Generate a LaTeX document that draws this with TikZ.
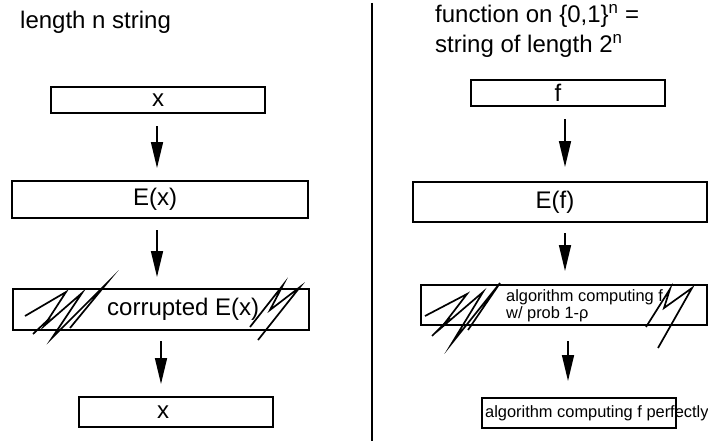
\documentclass[tikz,border=0pt]{standalone}
\usepackage{fontspec}
\setmainfont{Liberation Sans}
\usetikzlibrary{arrows.meta}
\begin{document}
\begin{tikzpicture}[x=1pt,y=-1pt,
  box/.style={draw, line width=2pt, inner sep=0pt},
  big/.style={font=\fontsize{24}{28}\selectfont, inner sep=0pt},
  small/.style={font=\fontsize{16.4}{19}\selectfont, inner sep=0pt},
  arr/.style={line width=1.6pt, -{Triangle[length=26pt,width=12pt]}},
  scrib/.style={line width=1.7pt, line join=miter, miter limit=25}]
\useasboundingbox (0,0) rectangle (708,444);
\clip (0,0) rectangle (708,444);
% divider
\coordinate (dtop) at (372,3);
\coordinate (dbot) at (372,441);
\draw[line width=2pt] (dtop) -- (dbot);
% ---- left column ----
\node[big, anchor=west] (tl) at (20,22) {length n string};
\node[box, minimum width=214pt, minimum height=26pt] (x1) at (158,100) {};
\node[big] (x1t) at (158,100) {x};
\node[box, minimum width=296pt, minimum height=37pt] (ex) at (160,199.5) {};
\node[big] (ext) at (155,199.5) {E(x)};
\node[box, minimum width=296pt, minimum height=41pt] (cx) at (161,309.5) {};
\node[big, anchor=west] (cxt) at (107,309.5) {corrupted E(x)};
\node[box, minimum width=194pt, minimum height=30pt] (x2) at (176,412) {};
\node[big] (x2t) at (163,412) {x};
\draw[arr, shorten <=12pt, shorten >=12pt] ([xshift=-1pt]x1.south) -- ([xshift=-1pt]x1.south |- ex.north);
\draw[arr, shorten <=11pt, shorten >=11pt] ([xshift=-3pt]ex.south) -- ([xshift=-3pt]ex.south |- cx.north);
\draw[arr, shorten <=10pt, shorten >=12pt] ([xshift=0pt]cx.south) -- ([xshift=0pt]cx.south |- x2.north);
% scribbles left
\draw[scrib] (25,316) -- (66,292) -- (44,326) -- (82,293) -- (52,338) -- (107,283) -- (70,328);
\draw[scrib] (33,334) -- (50,318);
\draw[scrib] (250,327) -- (283,285) -- (270,310) -- (300,287) -- (258,340);
% ---- right column ----
\node[big, anchor=west] (tr1) at (435,16) {function on \{0,1\}\textsuperscript{n} =};
\node[big, anchor=west] (tr2) at (435,46) {string of length 2\textsuperscript{n}};
\node[box, minimum width=194pt, minimum height=26pt] (f1) at (568,93) {};
\node[big] (f1t) at (558,93) {f};
\node[box, minimum width=294pt, minimum height=40pt] (ef) at (560,202) {};
\node[big] (eft) at (555,202) {E(f)};
\node[box, minimum width=286pt, minimum height=40pt] (cf) at (564,305) {};
\node[small, anchor=west] (cft1) at (506,297) {algorithm computing f};
\node[small, anchor=west] (cft2) at (506,314) {w/ prob 1-ρ};
\node[box, minimum width=194pt, minimum height=30pt] (f2) at (579,413) {};
\node[small, anchor=west] (f2t) at (485,413) {algorithm computing f perfectly};
\draw[arr, shorten <=12pt, shorten >=14pt] ([xshift=-3pt]f1.south) -- ([xshift=-3pt]f1.south |- ef.north);
\draw[arr, shorten <=10pt, shorten >=13pt] ([xshift=5pt]ef.south) -- ([xshift=5pt]ef.south |- cf.north);
\draw[arr, shorten <=15pt, shorten >=16pt] ([xshift=4pt]cf.south) -- ([xshift=4pt]cf.south |- f2.north);
% scribbles right
\draw[scrib] (425,316) -- (467,294) -- (441,328) -- (483,292) -- (452,343) -- (500,283) -- (468,330);
\draw[scrib] (432,336) -- (450,318);
\draw[scrib] (646,327) -- (670,289) -- (664,308) -- (692,288) -- (658,348);
\end{tikzpicture}
\end{document}
